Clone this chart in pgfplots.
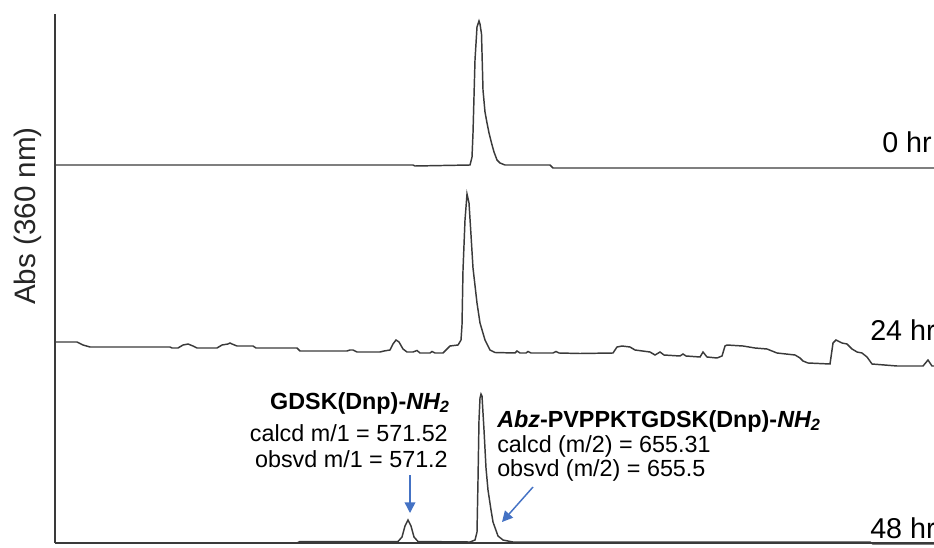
\documentclass[border=0pt]{standalone}
\usepackage{fontspec}
\setmainfont{Liberation Sans}
\usepackage{pgfplots}
\pgfplotsset{compat=1.18}
\usetikzlibrary{arrows.meta}
\definecolor{trace}{HTML}{3A3A3A}
\definecolor{arrowblue}{HTML}{4472C4}
\begin{document}
\begin{tikzpicture}
\begin{scope}
\clip (0,0) rectangle (700.5pt,410.25pt);
\begin{axis}[
  at={(41.25pt,3pt)}, anchor=south west,
  x=0.75pt, y=0.75pt,
  xmin=55, xmax=934, ymin=4, ymax=533,
  axis x line=bottom, axis y line=left,
  axis line style={-, draw=trace, line width=1.1pt},
  xtick=\empty, ytick=\empty,
  clip=false,
  ylabel={Abs (360 nm)},
  ylabel style={at={(axis description cs:-0.031,0.618)}, anchor=center, font=\fontsize{22.2}{26}\selectfont, text=black!85},
]
% 0 hr trace (x in px, y = 547 - pixel row)
\addplot[trace, line width=1.1pt] table {
x y
55 382
413 382
415 381
470 382
472 390
473 414
475 487
477 520
479 526
480 523
481.5 513
483 457
485 435
487 424
489 414
491.5 404
494 395
497 387
500 384
505 382
550 382
553 379
934 379
};
% 24 hr trace
\addplot[trace, line width=1.1pt] table {
x y
55 205
77 205
83 202
90 200
170 200
172 199
178 199
183 202
188 203
193 201
197 199
217 199
222 202
228 203
230 204
232 203
237 201
253 201
256 199
297 199
300 196
347 196
350 197
353 197
357 195
380 195
384 196
390 197
393 203
396 207
399 205
403 198
407 195
413 195
417 196.5
420 194
430 194
432 195.5
435 194
443 194
447 198
450 201
458 202
461 207
462 222
463 277
465 327
467 353
469 344
471 312
473 279
477 244
480 224
485 207
490 197
495 194.5
515 194
517 196
520 194
526 194
528 195.5
531 194
553 194
556 195.5
559 194
580 193.5
613 194
617 200
622 201
630 200
635 197
650 195
655 192
660 195
664 192
680 191
683 193
686 191
700 190
703 195
707 190
717 189
722 191
725 201
727 202
743 201
755 199
767 198
772 196
777 194
795 192
800 189
803 186
808 184
830 183
833 204
836 207
842 204
847 203
852 198
857 195
862 194
867 190
872 183
897 181
923 181
928 187
932 181
934 181
};
% 48 hr trace
\addplot[trace, line width=1.1pt] table {
x y
55 4
297 4
300 5.5
398 5.5
402 10
405 21
408 27
411 21
414 10
418 5.5
470 5
475 7
477 15
478 67
479 127
480 149
481 153
482 151
484 117
486 79
488 57
491 37
493 25
498 11
503 7
513 5
870 5
873 3
934 3
};
% annotations
\node[anchor=east, inner sep=0pt, font=\fontsize{17.5}{21}\selectfont] at (axis cs:450,144) {\bfseries GDSK(Dnp)-\textit{NH\textsubscript{2}}};
\node[anchor=east, inner sep=0pt, font=\fontsize{17.5}{21}\selectfont] at (axis cs:448,114) {calcd m/1 = 571.52};
\node[anchor=east, inner sep=0pt, font=\fontsize{17.5}{21}\selectfont] at (axis cs:448,88) {obsvd m/1 = 571.2};
\node[anchor=west, inner sep=0pt, font=\fontsize{17.5}{21}\selectfont] at (axis cs:497,126) {\bfseries\textit{Abz}-PVPPKTGDSK(Dnp)-\textit{NH\textsubscript{2}}};
\node[anchor=west, inner sep=0pt, font=\fontsize{17.5}{21}\selectfont] at (axis cs:497,101) {calcd (m/2) = 655.31};
\node[anchor=west, inner sep=0pt, font=\fontsize{17.5}{21}\selectfont] at (axis cs:497,77) {obsvd (m/2) = 655.5};
\draw[arrowblue, line width=1.1pt, -{Triangle[length=8pt,width=8pt]}] (axis cs:410,72) -- (axis cs:410,34);
\draw[arrowblue, line width=1.1pt, -{Triangle[length=8pt,width=8pt]}] (axis cs:533,60) -- (axis cs:502,25);
\node[anchor=west, inner sep=0pt, font=\fontsize{21.5}{25}\selectfont] at (axis cs:882,404.5) {0 hr};
\node[anchor=west, inner sep=0pt, font=\fontsize{21.5}{25}\selectfont] at (axis cs:870,217) {24 hr};
\node[anchor=west, inner sep=0pt, font=\fontsize{21.5}{25}\selectfont] at (axis cs:870,19) {48 hr};
\end{axis}
\end{scope}
\pgfresetboundingbox
\path[use as bounding box] (0,0) rectangle (700.5pt,410.25pt);
\end{tikzpicture}
\end{document}
